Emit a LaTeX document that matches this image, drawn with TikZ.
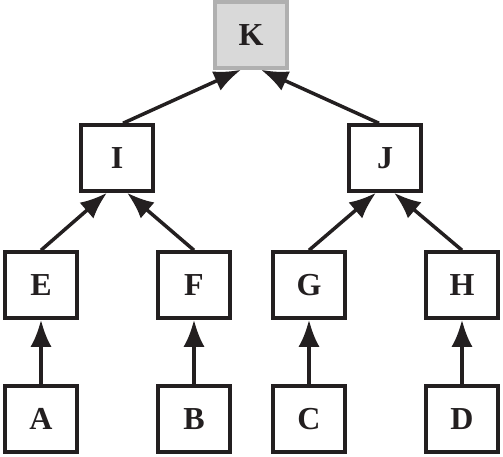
\documentclass[tikz,border=0pt]{standalone}
\usepackage{fontspec}
\setmainfont{Liberation Serif}
\usetikzlibrary{arrows.meta}
\definecolor{ink}{HTML}{231F20}
\definecolor{kfill}{HTML}{D9D9D9}
\definecolor{kborder}{HTML}{B0B0B0}
\tikzset{
  box/.style={draw=ink, line width=3.5pt, minimum width=72pt, minimum height=66pt, inner sep=0pt, font=\fontsize{32}{36}\selectfont\bfseries, text=ink},
  topbox/.style={box, draw=kborder, fill=kfill},
  arr/.style={draw=ink, line width=3.5pt, -{Latex[length=27pt,width=21pt]}}
}
\begin{document}
\begin{tikzpicture}[x=1pt,y=-1pt]
\useasboundingbox (0,0) rectangle (503,456);
\node[topbox] (K) at (251,35) {K};
\node[box] (I) at (117,158) {I};
\node[box] (J) at (385,158) {J};
\node[box] (E) at (41,285) {E};
\node[box] (F) at (194,285) {F};
\node[box] (G) at (309,285) {G};
\node[box] (H) at (462,285) {H};
\node[box] (A) at (41,419) {A};
\node[box] (B) at (194,419) {B};
\node[box] (C) at (309,419) {C};
\node[box] (D) at (462,419) {D};
\draw[arr] (I.north) ++(6,0) -- ([xshift=-10pt]K.south);
\draw[arr] (J.north) ++(-6,0) -- ([xshift=10pt]K.south);
\draw[arr] (E.north) -- ([xshift=-10pt]I.south);
\draw[arr] (F.north) -- ([xshift=10pt]I.south);
\draw[arr] (G.north) -- ([xshift=-9pt]J.south);
\draw[arr] (H.north) -- ([xshift=9pt]J.south);
\draw[arr] (A) -- (E);
\draw[arr] (B) -- (F);
\draw[arr] (C) -- (G);
\draw[arr] (D) -- (H);
\end{tikzpicture}
\end{document}
